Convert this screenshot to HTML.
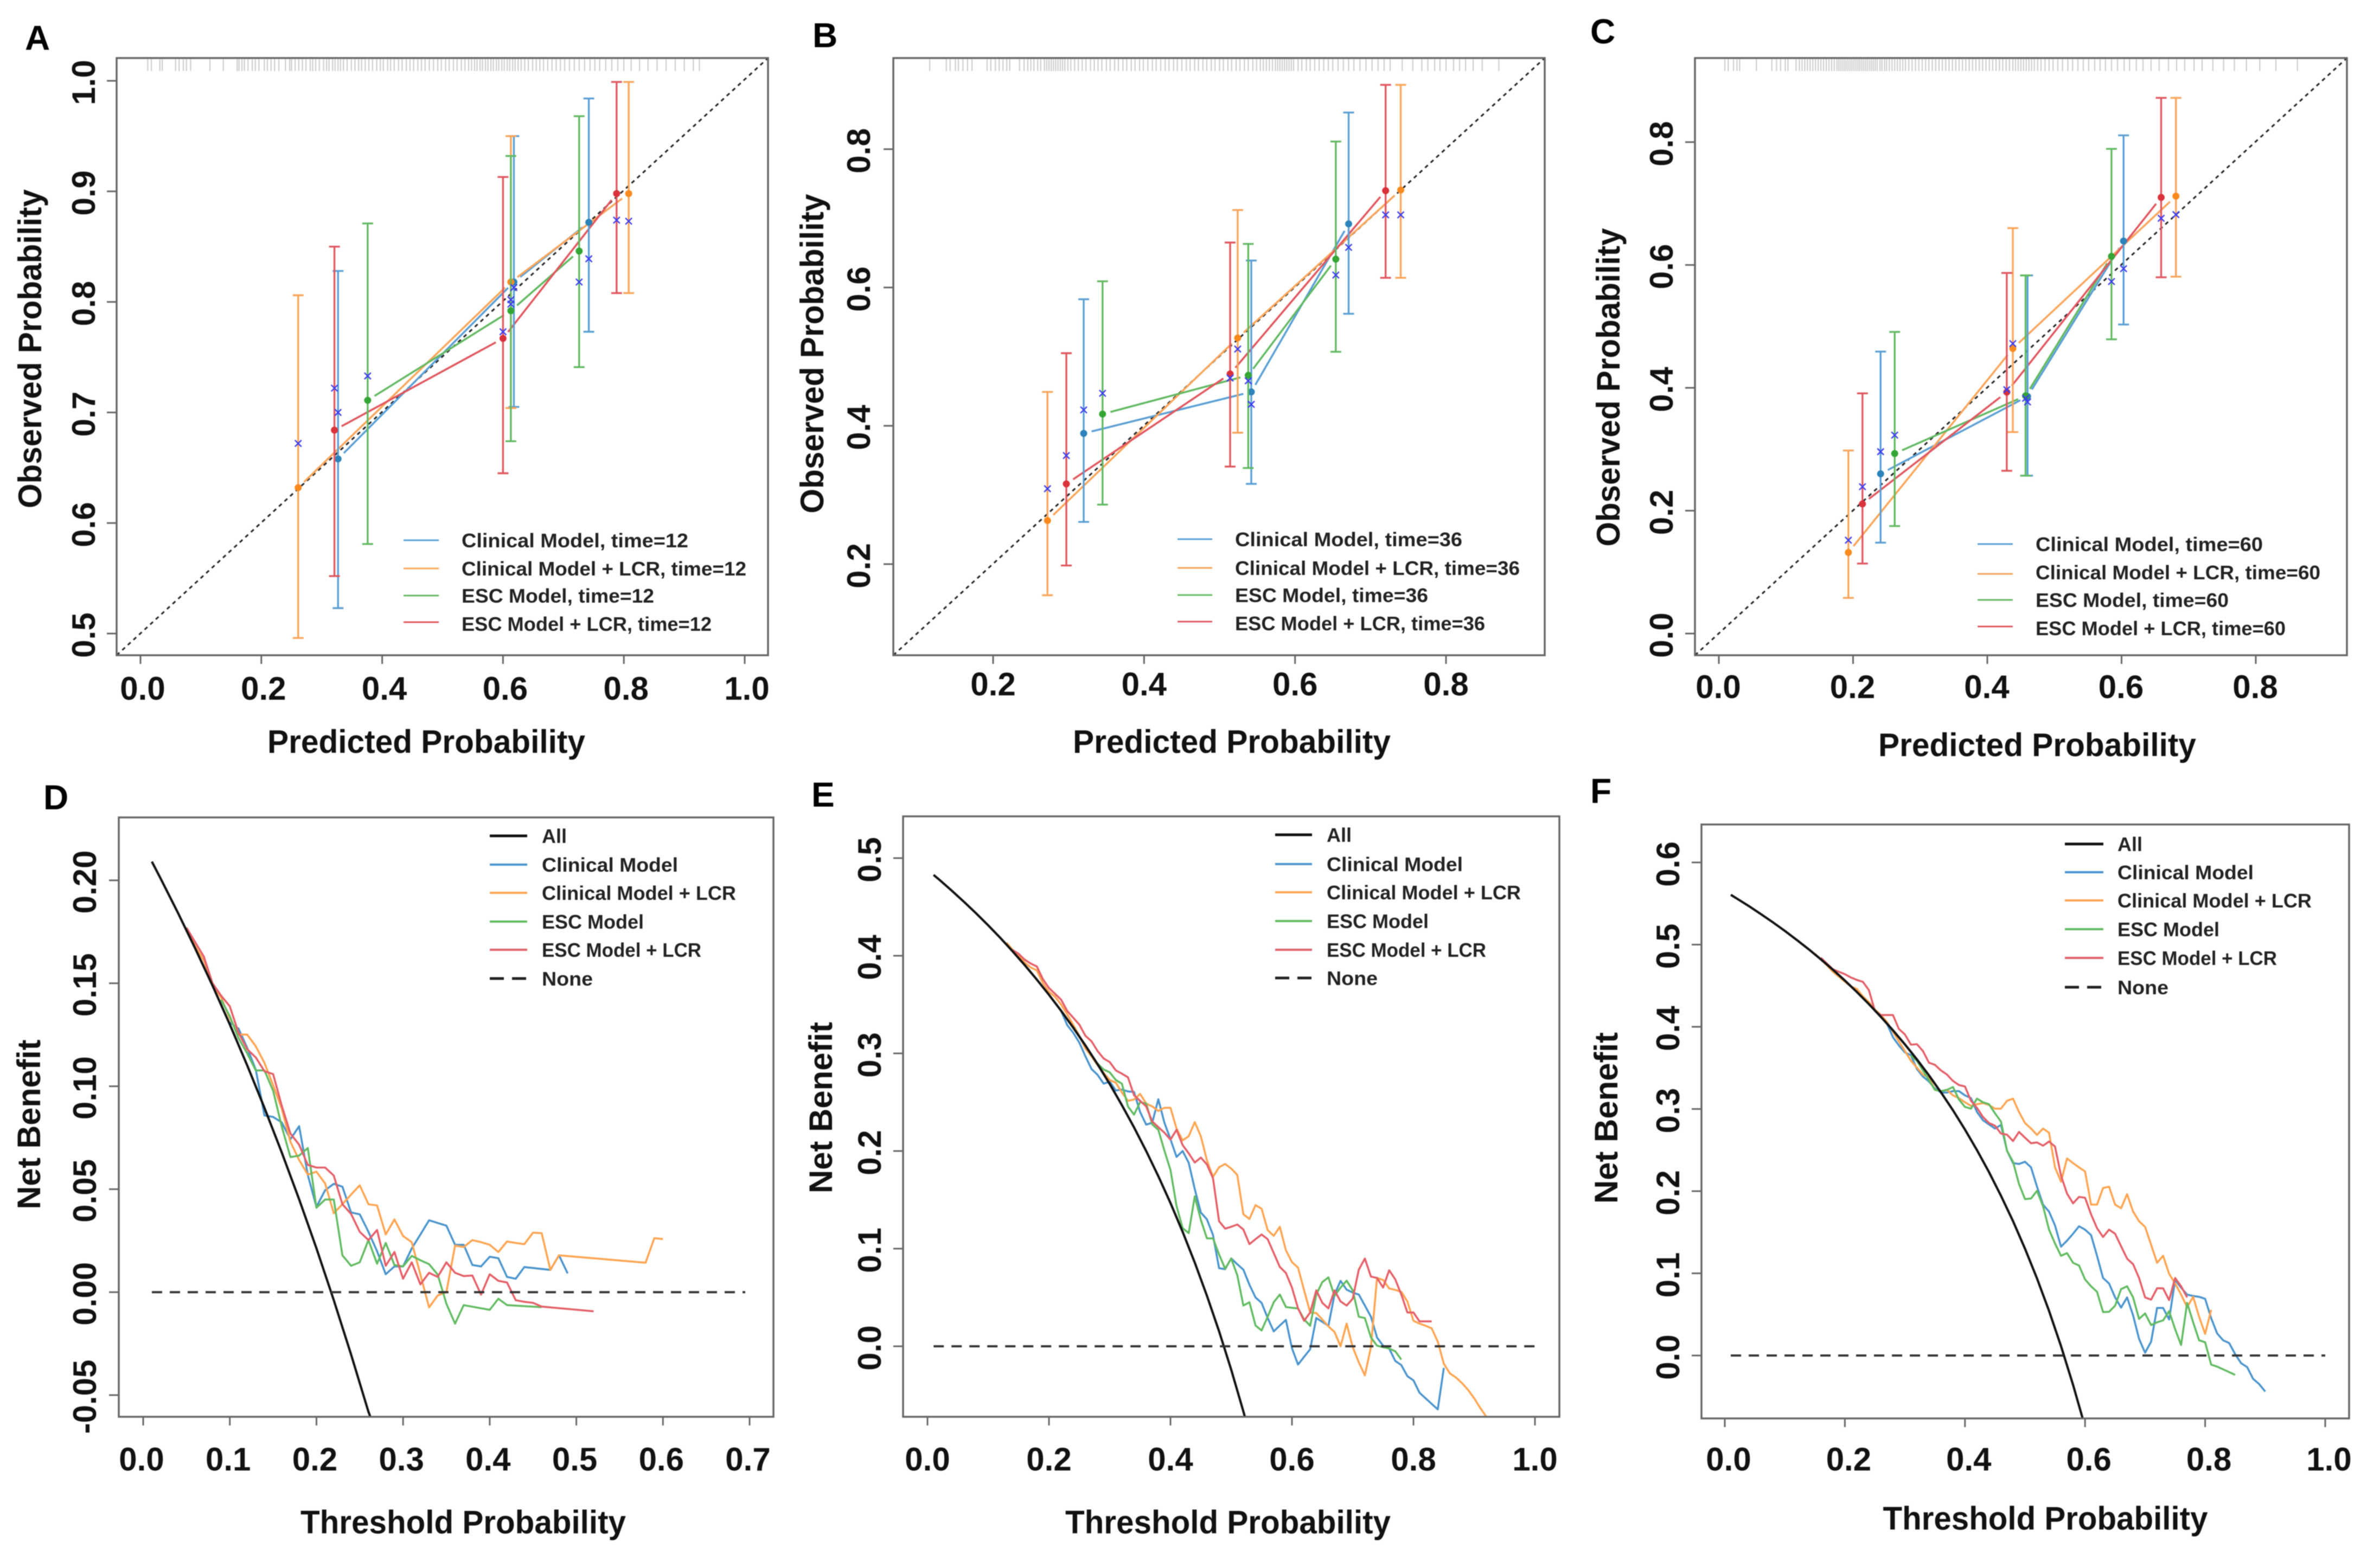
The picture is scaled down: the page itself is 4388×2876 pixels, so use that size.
<!DOCTYPE html>
<html lang="en">
<head>
<meta charset="utf-8">
<title>Calibration and decision curves</title>
<style>
html,body{margin:0;padding:0;background:#fff;width:4388px;height:2876px;overflow:hidden}
svg{display:block;filter:blur(0.8px)}
text{font-family:"Liberation Sans",sans-serif;font-weight:bold;fill:#111}
.lg{font-size:36px;fill:#222}
.tt{font-size:60px;fill:#111}
.pl{font-size:64px;fill:#000}
</style>
</head>
<body>
<svg id="figure" xmlns="http://www.w3.org/2000/svg" width="4388" height="2876" viewBox="0 0 4388 2876">
<rect x="0" y="0" width="4388" height="2876" fill="#fff"/>

<g>
<text class="pl" x="46" y="92">A</text>
<g id="marks-a"></g>
<text class="tt" x="786" y="1388" text-anchor="middle" textLength="586" lengthAdjust="spacingAndGlyphs">Predicted Probability</text>
<text class="tt" transform="translate(76,643) rotate(-90)" text-anchor="middle" textLength="588" lengthAdjust="spacingAndGlyphs">Observed Probability</text>
<g>
<line x1="744" x2="809" y1="996" y2="996" stroke="#5a9fd4" stroke-width="3"/>
<line x1="744" x2="809" y1="1048" y2="1048" stroke="#f9a55a" stroke-width="3"/>
<line x1="744" x2="809" y1="1098" y2="1098" stroke="#62b962" stroke-width="3"/>
<line x1="744" x2="809" y1="1147" y2="1147" stroke="#e0575f" stroke-width="3"/>
<text class="lg" x="851" y="1009" textLength="418" lengthAdjust="spacingAndGlyphs">Clinical Model, time=12</text>
<text class="lg" x="851" y="1061" textLength="525" lengthAdjust="spacingAndGlyphs">Clinical Model + LCR, time=12</text>
<text class="lg" x="851" y="1111" textLength="355" lengthAdjust="spacingAndGlyphs">ESC Model, time=12</text>
<text class="lg" x="851" y="1163" textLength="461" lengthAdjust="spacingAndGlyphs">ESC Model + LCR, time=12</text>
</g>
</g>

<g>
<text class="pl" x="1498" y="87">B</text>
<g id="marks-b"></g>
<text class="tt" x="2271" y="1388" text-anchor="middle" textLength="586" lengthAdjust="spacingAndGlyphs">Predicted Probability</text>
<text class="tt" transform="translate(1518,652) rotate(-90)" text-anchor="middle" textLength="589" lengthAdjust="spacingAndGlyphs">Observed Probability</text>
<g>
<line x1="2171" x2="2235" y1="994" y2="994" stroke="#5a9fd4" stroke-width="3"/>
<line x1="2171" x2="2235" y1="1047" y2="1047" stroke="#f9a55a" stroke-width="3"/>
<line x1="2171" x2="2235" y1="1097" y2="1097" stroke="#62b962" stroke-width="3"/>
<line x1="2171" x2="2235" y1="1146" y2="1146" stroke="#e0575f" stroke-width="3"/>
<text class="lg" x="2277" y="1007" textLength="419" lengthAdjust="spacingAndGlyphs">Clinical Model, time=36</text>
<text class="lg" x="2277" y="1060" textLength="525" lengthAdjust="spacingAndGlyphs">Clinical Model + LCR, time=36</text>
<text class="lg" x="2277" y="1110" textLength="356" lengthAdjust="spacingAndGlyphs">ESC Model, time=36</text>
<text class="lg" x="2277" y="1162" textLength="461" lengthAdjust="spacingAndGlyphs">ESC Model + LCR, time=36</text>
</g>
</g>

<g>
<text class="pl" x="2932" y="80">C</text>
<g id="marks-c"></g>
<text class="tt" x="3756" y="1394" text-anchor="middle" textLength="586" lengthAdjust="spacingAndGlyphs">Predicted Probability</text>
<text class="tt" transform="translate(2986,714) rotate(-90)" text-anchor="middle" textLength="587" lengthAdjust="spacingAndGlyphs">Observed Probability</text>
<g>
<line x1="3646" x2="3711" y1="1003" y2="1003" stroke="#5a9fd4" stroke-width="3"/>
<line x1="3646" x2="3711" y1="1058" y2="1058" stroke="#f9a55a" stroke-width="3"/>
<line x1="3646" x2="3711" y1="1106" y2="1106" stroke="#62b962" stroke-width="3"/>
<line x1="3646" x2="3711" y1="1155" y2="1155" stroke="#e0575f" stroke-width="3"/>
<text class="lg" x="3753" y="1016" textLength="419" lengthAdjust="spacingAndGlyphs">Clinical Model, time=60</text>
<text class="lg" x="3753" y="1068" textLength="525" lengthAdjust="spacingAndGlyphs">Clinical Model + LCR, time=60</text>
<text class="lg" x="3753" y="1119" textLength="356" lengthAdjust="spacingAndGlyphs">ESC Model, time=60</text>
<text class="lg" x="3753" y="1171" textLength="461" lengthAdjust="spacingAndGlyphs">ESC Model + LCR, time=60</text>
</g>
</g>

<g>
<text class="pl" x="80" y="1492">D</text>
<g id="marks-d"></g>
<text class="tt" x="854" y="2827" text-anchor="middle" textLength="600" lengthAdjust="spacingAndGlyphs">Threshold Probability</text>
<text class="tt" transform="translate(74,2073) rotate(-90)" text-anchor="middle" textLength="313" lengthAdjust="spacingAndGlyphs">Net Benefit</text>
<g>
<line x1="903" x2="972" y1="1541" y2="1541" stroke="#111" stroke-width="5"/>
<line x1="903" x2="972" y1="1594" y2="1594" stroke="#4a94cc" stroke-width="4"/>
<line x1="903" x2="972" y1="1646" y2="1646" stroke="#fda451" stroke-width="4"/>
<line x1="903" x2="972" y1="1699" y2="1699" stroke="#62bb62" stroke-width="4"/>
<line x1="903" x2="972" y1="1751" y2="1751" stroke="#e35f68" stroke-width="4"/>
<line x1="903" x2="972" y1="1804" y2="1804" stroke="#222" stroke-width="5" stroke-dasharray="26 15"/>
<text class="lg" x="999" y="1554" textLength="46" lengthAdjust="spacingAndGlyphs">All</text>
<text class="lg" x="999" y="1607" textLength="251" lengthAdjust="spacingAndGlyphs">Clinical Model</text>
<text class="lg" x="999" y="1659" textLength="358" lengthAdjust="spacingAndGlyphs">Clinical Model + LCR</text>
<text class="lg" x="999" y="1712" textLength="188" lengthAdjust="spacingAndGlyphs">ESC Model</text>
<text class="lg" x="999" y="1764" textLength="294" lengthAdjust="spacingAndGlyphs">ESC Model + LCR</text>
<text class="lg" x="999" y="1817" textLength="94" lengthAdjust="spacingAndGlyphs">None</text>
</g>
</g>

<g>
<text class="pl" x="1496" y="1487">E</text>
<g id="marks-e"></g>
<text class="tt" x="2264" y="2827" text-anchor="middle" textLength="600" lengthAdjust="spacingAndGlyphs">Threshold Probability</text>
<text class="tt" transform="translate(1534,2042) rotate(-90)" text-anchor="middle" textLength="316" lengthAdjust="spacingAndGlyphs">Net Benefit</text>
<g>
<line x1="2351" x2="2419" y1="1539" y2="1539" stroke="#111" stroke-width="5"/>
<line x1="2351" x2="2419" y1="1593" y2="1593" stroke="#4a94cc" stroke-width="4"/>
<line x1="2351" x2="2419" y1="1645" y2="1645" stroke="#fda451" stroke-width="4"/>
<line x1="2351" x2="2419" y1="1698" y2="1698" stroke="#62bb62" stroke-width="4"/>
<line x1="2351" x2="2419" y1="1751" y2="1751" stroke="#e35f68" stroke-width="4"/>
<line x1="2351" x2="2419" y1="1803" y2="1803" stroke="#222" stroke-width="5" stroke-dasharray="26 15"/>
<text class="lg" x="2446" y="1552" textLength="46" lengthAdjust="spacingAndGlyphs">All</text>
<text class="lg" x="2446" y="1606" textLength="251" lengthAdjust="spacingAndGlyphs">Clinical Model</text>
<text class="lg" x="2446" y="1658" textLength="358" lengthAdjust="spacingAndGlyphs">Clinical Model + LCR</text>
<text class="lg" x="2446" y="1711" textLength="188" lengthAdjust="spacingAndGlyphs">ESC Model</text>
<text class="lg" x="2446" y="1764" textLength="294" lengthAdjust="spacingAndGlyphs">ESC Model + LCR</text>
<text class="lg" x="2446" y="1816" textLength="94" lengthAdjust="spacingAndGlyphs">None</text>
</g>
</g>

<g>
<text class="pl" x="2932" y="1480">F</text>
<g id="marks-f"></g>
<text class="tt" x="3771" y="2820" text-anchor="middle" textLength="599" lengthAdjust="spacingAndGlyphs">Threshold Probability</text>
<text class="tt" transform="translate(2982,2061) rotate(-90)" text-anchor="middle" textLength="316" lengthAdjust="spacingAndGlyphs">Net Benefit</text>
<g>
<line x1="3807" x2="3878" y1="1556" y2="1556" stroke="#111" stroke-width="5"/>
<line x1="3807" x2="3878" y1="1608" y2="1608" stroke="#4a94cc" stroke-width="4"/>
<line x1="3807" x2="3878" y1="1660" y2="1660" stroke="#fda451" stroke-width="4"/>
<line x1="3807" x2="3878" y1="1713" y2="1713" stroke="#62bb62" stroke-width="4"/>
<line x1="3807" x2="3878" y1="1766" y2="1766" stroke="#e35f68" stroke-width="4"/>
<line x1="3807" x2="3878" y1="1820" y2="1820" stroke="#222" stroke-width="5" stroke-dasharray="26 15"/>
<text class="lg" x="3904" y="1569" textLength="46" lengthAdjust="spacingAndGlyphs">All</text>
<text class="lg" x="3904" y="1621" textLength="251" lengthAdjust="spacingAndGlyphs">Clinical Model</text>
<text class="lg" x="3904" y="1673" textLength="358" lengthAdjust="spacingAndGlyphs">Clinical Model + LCR</text>
<text class="lg" x="3904" y="1726" textLength="188" lengthAdjust="spacingAndGlyphs">ESC Model</text>
<text class="lg" x="3904" y="1779" textLength="294" lengthAdjust="spacingAndGlyphs">ESC Model + LCR</text>
<text class="lg" x="3904" y="1833" textLength="94" lengthAdjust="spacingAndGlyphs">None</text>
</g>
</g>
</svg>

<script>
/* ---------- Calibration data, panel A (time=12) ---------- */
const aClinicalPred=[0.327,0.618,0.742];
const aClinicalObs=[0.658,0.818,0.872];
const aClinicalLo=[0.523,0.705,0.773];
const aClinicalHi=[0.828,0.950,0.984];
const aClinicalKm=[0.700,0.813,0.839];
const aClinLcrPred=[0.261,0.613,0.808];
const aClinLcrObs=[0.632,0.818,0.898];
const aClinLcrLo=[0.496,0.704,0.808];
const aClinLcrHi=[0.806,0.950,0.999];
const aClinLcrKm=[0.672,0.802,0.873];
const aEscPred=[0.376,0.613,0.726];
const aEscObs=[0.711,0.792,0.846];
const aEscLo=[0.581,0.674,0.741];
const aEscHi=[0.871,0.932,0.968];
const aEscKm=[0.733,0.798,0.818];
const aEscLcrPred=[0.321,0.600,0.788];
const aEscLcrObs=[0.684,0.767,0.898];
const aEscLcrLo=[0.552,0.645,0.808];
const aEscLcrHi=[0.850,0.913,0.999];
const aEscLcrKm=[0.722,0.773,0.874];
const aRug=[0.012,0.018,0.032,0.036,0.058,0.064,0.071,0.076,0.083,0.115,0.137,0.16,0.163,0.168,0.172,0.178,0.185,0.19,0.196,0.205,0.21,0.216,0.222,0.229,0.24,0.247,0.25,0.256,0.262,0.268,0.274,0.281,0.285,0.29,0.296,0.303,0.308,0.312,0.318,0.322,0.327,0.331,0.336,0.342,0.349,0.355,0.361,0.366,0.372,0.378,0.384,0.391,0.397,0.402,0.409,0.414,0.42,0.427,0.433,0.44,0.446,0.452,0.459,0.465,0.471,0.478,0.485,0.492,0.498,0.505,0.511,0.518,0.524,0.531,0.537,0.543,0.548,0.553,0.557,0.562,0.566,0.571,0.575,0.58,0.584,0.589,0.593,0.598,0.602,0.607,0.611,0.616,0.62,0.625,0.63,0.636,0.642,0.649,0.655,0.661,0.667,0.674,0.681,0.688,0.695,0.702,0.71,0.718,0.726,0.735,0.744,0.752,0.76,0.77,0.78,0.79,0.8,0.812,0.826,0.84,0.855,0.87,0.885,0.9,0.915,0.925];

/* ---------- Calibration data, panel B (time=36) ---------- */
const bClinicalPred=[0.320,0.542,0.671];
const bClinicalObs=[0.389,0.449,0.692];
const bClinicalLo=[0.261,0.316,0.562];
const bClinicalHi=[0.583,0.639,0.853];
const bClinicalKm=[0.423,0.431,0.658];
const bClinLcrPred=[0.272,0.524,0.740];
const bClinLcrObs=[0.263,0.527,0.741];
const bClinLcrLo=[0.155,0.390,0.614];
const bClinLcrHi=[0.449,0.712,0.893];
const bClinLcrKm=[0.309,0.511,0.705];
const bEscPred=[0.345,0.538,0.654];
const bEscObs=[0.417,0.473,0.641];
const bEscLo=[0.286,0.339,0.507];
const bEscHi=[0.609,0.663,0.811];
const bEscKm=[0.447,0.465,0.618];
const bEscLcrPred=[0.297,0.514,0.720];
const bEscLcrObs=[0.316,0.475,0.740];
const bEscLcrLo=[0.198,0.341,0.614];
const bEscLcrHi=[0.505,0.665,0.893];
const bEscLcrKm=[0.357,0.469,0.705];
const bRug=[0.116,0.138,0.143,0.15,0.154,0.16,0.166,0.172,0.192,0.197,0.203,0.208,0.213,0.218,0.222,0.235,0.241,0.246,0.25,0.254,0.259,0.263,0.268,0.271,0.274,0.277,0.28,0.283,0.286,0.289,0.292,0.295,0.299,0.303,0.308,0.313,0.318,0.323,0.329,0.334,0.339,0.344,0.35,0.355,0.361,0.366,0.372,0.377,0.383,0.388,0.394,0.399,0.405,0.411,0.416,0.422,0.428,0.433,0.439,0.444,0.45,0.456,0.461,0.467,0.472,0.478,0.483,0.489,0.494,0.5,0.505,0.511,0.516,0.522,0.527,0.533,0.538,0.544,0.549,0.554,0.558,0.562,0.566,0.57,0.574,0.577,0.58,0.583,0.586,0.589,0.592,0.595,0.598,0.604,0.609,0.615,0.62,0.626,0.632,0.638,0.644,0.65,0.657,0.664,0.671,0.678,0.686,0.694,0.702,0.71,0.718,0.726,0.742,0.756,0.768,0.776,0.785,0.792,0.8,0.81,0.818,0.826,0.836,0.848,0.87];

/* ---------- Calibration data, panel C (time=60) ---------- */
const cClinicalPred=[0.241,0.460,0.603];
const cClinicalObs=[0.260,0.386,0.639];
const cClinicalLo=[0.148,0.257,0.503];
const cClinicalHi=[0.459,0.583,0.811];
const cClinicalKm=[0.296,0.377,0.594];
const cClinLcrPred=[0.193,0.438,0.681];
const cClinLcrObs=[0.132,0.464,0.712];
const cClinLcrLo=[0.058,0.328,0.581];
const cClinLcrHi=[0.298,0.660,0.872];
const cClinLcrKm=[0.152,0.472,0.682];
const cEscPred=[0.262,0.457,0.585];
const cEscObs=[0.293,0.387,0.614];
const cEscLo=[0.175,0.257,0.479];
const cEscHi=[0.491,0.583,0.789];
const cEscKm=[0.323,0.383,0.573];
const cEscLcrPred=[0.214,0.429,0.659];
const cEscLcrObs=[0.211,0.393,0.710];
const cEscLcrLo=[0.114,0.265,0.580];
const cEscLcrHi=[0.391,0.587,0.872];
const cEscLcrKm=[0.239,0.397,0.676];
const cRug=[0.009,0.014,0.022,0.027,0.031,0.056,0.079,0.086,0.092,0.099,0.103,0.115,0.12,0.124,0.128,0.132,0.136,0.14,0.144,0.148,0.152,0.156,0.16,0.164,0.168,0.172,0.176,0.179,0.182,0.185,0.188,0.191,0.194,0.197,0.2,0.203,0.206,0.209,0.212,0.215,0.218,0.221,0.224,0.227,0.23,0.233,0.236,0.24,0.243,0.247,0.25,0.254,0.258,0.262,0.266,0.27,0.274,0.278,0.283,0.288,0.293,0.298,0.303,0.308,0.313,0.318,0.323,0.328,0.333,0.338,0.343,0.348,0.353,0.358,0.363,0.368,0.373,0.378,0.383,0.388,0.393,0.398,0.403,0.408,0.413,0.418,0.423,0.428,0.433,0.438,0.442,0.446,0.45,0.454,0.458,0.462,0.466,0.47,0.475,0.48,0.486,0.492,0.498,0.505,0.512,0.52,0.527,0.535,0.543,0.551,0.56,0.568,0.576,0.585,0.594,0.604,0.612,0.622,0.632,0.644,0.656,0.67,0.682,0.694,0.708,0.72,0.736,0.752,0.768,0.786,0.806,0.83,0.862];

/* ---------- Calibration axis ticks ---------- */
const aXTicks=[0,0.2,0.4,0.6,0.8,1];
const aXLabels=["0.0","0.2","0.4","0.6","0.8","1.0"];
const aYTicks=[0.5,0.6,0.7,0.8,0.9,1];
const aYLabels=["0.5","0.6","0.7","0.8","0.9","1.0"];
const bXTicks=[0.2,0.4,0.6,0.8];
const bXLabels=["0.2","0.4","0.6","0.8"];
const bYTicks=[0.2,0.4,0.6,0.8];
const bYLabels=["0.2","0.4","0.6","0.8"];
const cXTicks=[0,0.2,0.4,0.6,0.8];
const cXLabels=["0.0","0.2","0.4","0.6","0.8"];
const cYTicks=[0,0.2,0.4,0.6,0.8];
const cYLabels=["0.0","0.2","0.4","0.6","0.8"];

/* ---------- Decision curve data: value at threshold = start + index*0.01 ---------- */
const dAllT=[0.01,0.02,0.04,0.06,0.08,0.10,0.12,0.14,0.16,0.18,0.20,0.22,0.24,0.26,0.262];
const dAllV=[0.2091,0.2010,0.1843,0.1670,0.1489,0.1300,0.1102,0.0895,0.0678,0.0451,0.0213,-0.0039,-0.0303,-0.0581,-0.0603];
const dNone=[0.01,0.695];
const dClinicalStart=0.10;
const dClinical=[0.131,0.128,0.1187,0.108,0.0858,0.0851,0.0824,0.0743,0.0806,0.0569,0.0414,0.0495,0.0526,0.0512,0.0387,0.0378,0.0293,0.0199,0.0087,0.0125,0.0125,0.0212,0.028,0.0349,0.0336,0.0323,0.023,0.023,0.0132,0.0125,0.0172,0.0165,0.0074,0.0065,0.0122,null,null,0.0108,0.0179,0.0091];
const dClinLcrStart=0.05;
const dClinLcr=[0.176,0.168,0.161,0.15,0.143,0.133,0.1251,0.1251,0.1194,0.1113,0.1005,0.0891,0.073,0.0642,0.0571,0.0585,0.0528,0.0383,0.0427,0.0474,0.0519,0.0427,0.0421,0.028,0.0353,0.0273,0.0243,0.0085,-0.0074,-0.0016,0,0.0226,0.0219,0.0253,0.0243,0.023,0.0195,0.0246,0.0239,0.0233,0.0289,0.0286,0.0108,0.0179,null,null,null,null,null,null,null,null,null,0.0143,0.0262,0.0258];
const dEscStart=0.09;
const dEsc=[0.142,0.134,0.1234,0.116,0.1077,0.1077,0.0978,0.0804,0.0656,0.0663,0.07,0.041,0.045,0.045,0.0179,0.0128,0.0145,0.0253,0.0138,0.0239,0.0132,0.0125,0.0176,0.0155,0.0136,0.0085,-0.0056,-0.0153,-0.0063,null,null,-0.0086,-0.0032,-0.0063,null,null,null,-0.0073];
const dEscLcrStart=0.05;
const dEscLcr=[0.177,0.17,0.163,0.15,0.144,0.1388,0.126,0.118,0.114,0.1073,0.1059,0.0905,0.077,0.0716,0.0618,0.0605,0.0605,0.0566,0.0427,0.038,0.0293,0.0253,0.0302,0.0128,0.0195,0.0065,0.0145,0.0038,0.0094,0.0074,0.0145,0.0094,0.0078,0.0081,-0.0012,0.0087,0.0055,0.0047,-0.0039,-0.0047,-0.0052,-0.007,null,null,null,null,null,-0.0093];

const eAllT=[0.01,0.02,0.04,0.06,0.08,0.10,0.12,0.14,0.16,0.18,0.20,0.22,0.24,0.26,0.28,0.30,0.32,0.34,0.36,0.38,0.40,0.42,0.44,0.46,0.48,0.50,0.52,0.5225];
const eAllV=[0.4828,0.4776,0.4666,0.4553,0.4435,0.4311,0.4182,0.4046,0.3905,0.3756,0.3600,0.3436,0.3263,0.3081,0.2889,0.2686,0.2470,0.2242,0.2000,0.1742,0.1467,0.1173,0.0857,0.0518,0.0154,-0.0240,-0.0667,-0.0722];
const eNone=[0.01,1.0];
const eClinicalStart=0.22;
const eClinical=[0.3435,0.329,0.321,0.311,0.297,0.284,0.278,0.269,0.271,0.262,0.263,0.261,0.2605,0.24,0.227,0.229,0.253,0.229,0.212,0.194,0.2,0.188,0.161,0.137,0.13,0.114,0.08,0.079,0.09,0.084,0.0785,0.063,0.05,0.0445,0.029,0.0153,0.0213,0.027,-0.002,-0.0187,-0.0108,-0.003,0.029,0.025,0.021,0.053,0.067,0.058,0.055,0.053,0.0417,0.0303,0.009,0.0006,-0.0023,-0.015,-0.0193,-0.0306,-0.0349,-0.0476,-0.0533,-0.059,-0.0646,-0.0221];
const eClinLcrStart=0.13;
const eClinLcr=[0.4135,0.406,0.4,0.393,0.388,0.385,0.372,0.363,0.358,0.35,0.34,0.329,0.318,0.305,0.297,0.288,0.28,0.2727,0.27,0.26,0.2514,0.2528,0.2585,0.2486,0.2457,0.241,0.2443,0.2443,0.223,0.2109,0.2151,0.2296,0.2151,0.1905,0.1735,0.1834,0.1868,0.182,0.1755,0.1352,0.1304,0.1446,0.1409,0.119,0.1131,0.1224,0.0984,0.0862,0.0805,0.0573,0.0346,0.034,0.0275,0.0204,0.0147,0,0.0232,-0.0009,-0.0164,-0.0298,-0.0009,0.07,0.068,0.0592,0.0578,0.0558,0.0459,0.0261,0.0232,0.021,0.0184,0.0048,-0.0179,-0.0278,-0.032,-0.0377,-0.0448,-0.0533,-0.0632,-0.0722];
const eEscStart=0.28;
const eEsc=[0.2895,0.2835,0.2806,0.2727,0.269,0.2457,0.2372,0.25,0.2486,0.2273,0.2217,0.2004,0.1806,0.1437,0.121,0.1159,0.1536,0.1295,0.1105,0.1105,0.0941,0.0794,0.0899,0.0728,0.0417,0.0451,0.0213,0.0162,0.0303,0.0451,0.053,0.0402,0.0394,0.0388,0.0275,0.021,0.053,0.0658,0.0706,0.0516,0.0601,0.0672,0.0573,0.0303,0.0289,0.0091,0.0006,-0.0009,-0.0023,-0.0051,-0.0136];
const eEscLcrStart=0.14;
const eEscLcr=[0.406,0.402,0.396,0.392,0.389,0.376,0.367,0.361,0.355,0.3435,0.3365,0.3294,0.318,0.3124,0.3024,0.2948,0.2911,0.2826,0.2792,0.2755,0.2571,0.2514,0.2457,0.2302,0.2245,0.2188,0.2117,0.2217,0.2061,0.1976,0.1882,0.1933,0.1862,0.1721,0.1281,0.1205,0.1224,0.1247,0.1196,0.1046,0.1097,0.1145,0.1097,0.0955,0.0813,0.0751,0.0601,0.0388,0.0261,0.0346,0.0573,0.0445,0.0388,0.0573,0.0459,0.0417,0.0488,0.0785,0.0899,0.0714,0.07,0.0601,0.0779,0.0686,0.053,0.0346,0.0346,0.0255,0.0255,0.0255];

const fAllT=[0.01,0.02,0.04,0.06,0.08,0.10,0.12,0.14,0.16,0.18,0.20,0.22,0.24,0.26,0.28,0.30,0.32,0.34,0.36,0.38,0.40,0.42,0.44,0.46,0.48,0.50,0.52,0.54,0.56,0.58,0.596];
const fAllV=[0.5606,0.5561,0.5469,0.5372,0.5272,0.5167,0.5057,0.4942,0.4821,0.4695,0.4563,0.4423,0.4276,0.4121,0.3958,0.3786,0.3603,0.3409,0.3203,0.2984,0.2750,0.2500,0.2232,0.1944,0.1635,0.1300,0.0938,0.0543,0.0114,-0.0357,-0.0766];
const fNone=[0.01,1.0];
const fClinicalStart=0.27;
const fClinical=[0.404,0.3873,0.3772,0.3688,0.3654,0.3486,0.3395,0.3334,0.325,0.32,0.32,0.3217,0.3217,0.3166,0.3132,0.2964,0.2863,0.2812,0.2762,0.2806,0.2492,0.2341,0.2331,0.2358,0.229,0.2055,0.1836,0.1751,0.1583,0.1324,0.1398,0.1482,0.1573,0.1532,0.1465,0.1213,0.0943,0.0876,0.0707,0.0583,0.0707,0.0488,0.0202,0.0034,0.0168,0.0579,0.0579,0.0438,0.092,0.0825,0.0741,0.0724,0.0714,0.069,0.0455,0.0269,0.0185,0.0152,0.0017,-0.0094,-0.0141,-0.0286,-0.0347,-0.0438];
const fClinLcrStart=0.15;
const fClinLcr=[0.489,0.482,0.475,0.467,0.461,0.455,0.449,0.446,0.437,0.43,0.421,0.4143,0.4059,0.3941,0.3823,0.3705,0.3587,0.3503,0.3419,0.3385,0.3233,0.3217,0.3233,0.3166,0.3132,0.3082,0.3038,0.3058,0.3072,0.3048,0.3004,0.3004,0.3099,0.3126,0.2964,0.2829,0.2762,0.2684,0.2762,0.2711,0.229,0.2115,0.2398,0.2341,0.229,0.224,0.1836,0.1836,0.2038,0.2055,0.1836,0.1792,0.1964,0.1751,0.1634,0.1566,0.1347,0.1128,0.1213,0.0994,0.0876,0.0741,0.0589,0.0714,0.0472,0.0263,0.0556];
const fEscStart=0.31;
const fEsc=[0.365,0.3587,0.3469,0.3351,0.3233,0.3217,0.3233,0.3267,0.3115,0.3025,0.3004,0.3126,0.3082,0.3058,0.2947,0.2846,0.2492,0.2358,0.2088,0.1903,0.191,0.2004,0.1819,0.1532,0.1364,0.1213,0.1246,0.1128,0.1095,0.0926,0.0842,0.0775,0.0529,0.0532,0.0606,0.0808,0.0842,0.0707,0.0445,0.0512,0.0371,0.0404,0.0428,0.0539,0.032,0.0128,0.064,0.0404,0.0185,0.0162,-0.0111,-0.0135,-0.0168,-0.0202,-0.0236];
const fEscLcrStart=0.16;
const fEscLcr=[0.484,0.477,0.47,0.467,0.464,0.46,0.457,0.4547,0.4446,0.4193,0.4143,0.4143,0.4143,0.3974,0.3907,0.3782,0.3789,0.3705,0.3563,0.3537,0.3469,0.3419,0.3341,0.3291,0.3274,0.3099,0.3014,0.2903,0.2829,0.2796,0.2701,0.2688,0.261,0.2721,0.2651,0.2583,0.2593,0.2553,0.2604,0.2543,0.2189,0.197,0.1852,0.193,0.192,0.1718,0.1549,0.1442,0.1532,0.1482,0.133,0.1179,0.1111,0.0943,0.0707,0.068,0.0818,0.0818,0.0674,0.0943,0.0842,0.0707];

/* ---------- Decision curve axis ticks ---------- */
const dXTicks=[0,0.1,0.2,0.3,0.4,0.5,0.6,0.7];
const dXLabels=["0.0","0.1","0.2","0.3","0.4","0.5","0.6","0.7"];
const dYTicks=[-0.05,0,0.05,0.10,0.15,0.20];
const dYLabels=["-0.05","0.00","0.05","0.10","0.15","0.20"];
const eXTicks=[0,0.2,0.4,0.6,0.8,1];
const eXLabels=["0.0","0.2","0.4","0.6","0.8","1.0"];
const eYTicks=[0,0.1,0.2,0.3,0.4,0.5];
const eYLabels=["0.0","0.1","0.2","0.3","0.4","0.5"];
const fXTicks=[0,0.2,0.4,0.6,0.8,1];
const fXLabels=["0.0","0.2","0.4","0.6","0.8","1.0"];
const fYTicks=[0,0.1,0.2,0.3,0.4,0.5,0.6];
const fYLabels=["0.0","0.1","0.2","0.3","0.4","0.5","0.6"];

/* ---------- Drawing ---------- */
const NS='http://www.w3.org/2000/svg';
const CAL_COLORS={clinical:'#5a9fd4',clinlcr:'#f9a55a',esc:'#62b962',esclcr:'#e0575f'};
const DOT_COLORS={clinical:'#2b83ba',clinlcr:'#fb8a1e',esc:'#35a535',esclcr:'#d9323a'};
const DCA_COLORS={clinical:'#4a94cc',clinlcr:'#fda451',esc:'#62bb62',esclcr:'#e35f68'};

function mk(parent,tag,name,attrs){
  const el=document.createElementNS(NS,tag);
  
  
  for(const k in attrs){el.setAttribute(k,attrs[k]);}
  parent.appendChild(el);
  return el;
}
function scale(v0,v1,p0,p1){return v=>p0+(v-v0)*(p1-p0)/(v1-v0);}

function drawFrame(g,P,X,Y){
  const [l,t,r,b]=P.box;
  const color='#666';
  P.xTicks.forEach((v,i)=>{
    const x=X(v);
    mk(g,'line','x-tick',{x1:x,x2:x,y1:b,y2:b+16,stroke:color,'stroke-width':3});
    const lab=mk(g,'text','x-tick-label',{x:x+P.xLabelShift,y:P.xLabelY,'text-anchor':'middle','font-size':60});
    lab.textContent=P.xLabels[i];
  });
  P.yTicks.forEach((v,i)=>{
    const y=Y(v);
    mk(g,'line','y-tick',{x1:l-18,x2:l,y1:y,y2:y,stroke:color,'stroke-width':3});
    const lab=mk(g,'text','y-tick-label',{transform:`translate(${P.yLabelX},${y+P.yLabelShift}) rotate(-90)`,'text-anchor':'middle','font-size':60});
    lab.textContent=P.yLabels[i];
  });
}
function drawBox(g,P){
  const [l,t,r,b]=P.box;
  mk(g,'rect','plot-box',{x:l,y:t,width:r-l,height:b-t,fill:'none',stroke:'#666','stroke-width':3.5});
}

function drawCalibration(P){
  const g=document.getElementById(P.id);
  const X=scale(P.xv[0],P.xv[1],P.xp[0],P.xp[1]);
  const Y=scale(P.yv[0],P.yv[1],P.yp[0],P.yp[1]);
  const [l,t,r,b]=P.box;
  drawFrame(g,P,X,Y);
  P.rug.forEach(v=>{
    mk(g,'line','rug-mark',{x1:X(v),x2:X(v),y1:t+2,y2:t+24,stroke:'rgba(60,60,60,0.28)','stroke-width':2});
  });
  mk(g,'line','ideal-diagonal',{x1:l,y1:b,x2:r,y2:t,stroke:'#222','stroke-width':3,'stroke-dasharray':'7 7'});
  const GAP=15;
  P.series.forEach(s=>{
    const c=CAL_COLORS[s.key], d=DOT_COLORS[s.key];
    for(let i=0;i<s.pred.length-1;i++){
      const x1=X(s.pred[i]),y1=Y(s.obs[i]),x2=X(s.pred[i+1]),y2=Y(s.obs[i+1]);
      const len=Math.hypot(x2-x1,y2-y1),ux=(x2-x1)/len,uy=(y2-y1)/len;
      mk(g,'line','calibration-line-'+s.key,{x1:x1+ux*GAP,y1:y1+uy*GAP,x2:x2-ux*GAP,y2:y2-uy*GAP,stroke:c,'stroke-width':3.6});
    }
  });
  P.series.forEach(s=>{
    const c=CAL_COLORS[s.key], d=DOT_COLORS[s.key];
    s.pred.forEach((p,i)=>{
      const x=X(p);
      mk(g,'line','error-bar-'+s.key,{x1:x,x2:x,y1:Y(s.lo[i]),y2:Y(s.hi[i]),stroke:c,'stroke-width':3.4});
      mk(g,'line','error-cap-'+s.key,{x1:x-10,x2:x+10,y1:Y(s.lo[i]),y2:Y(s.lo[i]),stroke:c,'stroke-width':3.4});
      mk(g,'line','error-cap-'+s.key,{x1:x-10,x2:x+10,y1:Y(s.hi[i]),y2:Y(s.hi[i]),stroke:c,'stroke-width':3.4});
      mk(g,'circle','observed-point-'+s.key,{cx:x,cy:Y(s.obs[i]),r:6.5,fill:d});
    });
  });
  P.series.forEach(s=>{
    s.pred.forEach((p,i)=>{
      const x=X(p),y=Y(s.km[i]);
      mk(g,'line','bias-corrected-mark-'+s.key,{x1:x-6,y1:y-6,x2:x+6,y2:y+6,stroke:'#3b3bf0','stroke-width':2.4});
      mk(g,'line','bias-corrected-mark-'+s.key,{x1:x-6,y1:y+6,x2:x+6,y2:y-6,stroke:'#3b3bf0','stroke-width':2.4});
    });
  });
  drawBox(g,P);
}

function drawDecision(P){
  const g=document.getElementById(P.id);
  const X=scale(P.xv[0],P.xv[1],P.xp[0],P.xp[1]);
  const Y=scale(P.yv[0],P.yv[1],P.yp[0],P.yp[1]);
  drawFrame(g,P,X,Y);
  P.series.forEach(s=>{
    const pts=[];
    s.values.forEach((v,i)=>{
      if(v===null)return;
      pts.push(X(s.start+i*0.01).toFixed(1)+','+Y(v).toFixed(1));
    });
    mk(g,'polyline','net-benefit-curve-'+s.key,{points:pts.join(' '),fill:'none',stroke:DCA_COLORS[s.key],'stroke-width':3.6,'stroke-linejoin':'round'});
  });
  const allPts=P.allT.map((t,i)=>X(t).toFixed(1)+','+Y(P.allV[i]).toFixed(1));
  mk(g,'polyline','net-benefit-curve-all',{points:allPts.join(' '),fill:'none',stroke:'#111','stroke-width':4.2});
  mk(g,'line','net-benefit-line-none',{x1:X(P.none[0]),x2:X(P.none[1]),y1:Y(0),y2:Y(0),stroke:'#333','stroke-width':4,'stroke-dasharray':'19 14'});
  drawBox(g,P);
}

drawCalibration({id:'marks-a',xv:[0,1],xp:[259,1373],yv:[0.5,1],yp:[1168,149],box:[215,107,1416,1208],
  xTicks:aXTicks,xLabels:aXLabels,yTicks:aYTicks,yLabels:aYLabels,xLabelY:1290,xLabelShift:4,yLabelX:175,yLabelShift:3,rug:aRug,
  series:[
    {key:'clinical',pred:aClinicalPred,obs:aClinicalObs,lo:aClinicalLo,hi:aClinicalHi,km:aClinicalKm},
    {key:'clinlcr',pred:aClinLcrPred,obs:aClinLcrObs,lo:aClinLcrLo,hi:aClinLcrHi,km:aClinLcrKm},
    {key:'esc',pred:aEscPred,obs:aEscObs,lo:aEscLo,hi:aEscHi,km:aEscKm},
    {key:'esclcr',pred:aEscLcrPred,obs:aEscLcrObs,lo:aEscLcrLo,hi:aEscLcrHi,km:aEscLcrKm}
  ]});
drawCalibration({id:'marks-b',xv:[0.2,0.8],xp:[1831,2666],yv:[0.2,0.8],yp:[1040,275],box:[1647,107,2848,1208],
  xTicks:bXTicks,xLabels:bXLabels,yTicks:bYTicks,yLabels:bYLabels,xLabelY:1282,xLabelShift:0,yLabelX:1604,yLabelShift:3,rug:bRug,
  series:[
    {key:'clinical',pred:bClinicalPred,obs:bClinicalObs,lo:bClinicalLo,hi:bClinicalHi,km:bClinicalKm},
    {key:'clinlcr',pred:bClinLcrPred,obs:bClinLcrObs,lo:bClinLcrLo,hi:bClinLcrHi,km:bClinLcrKm},
    {key:'esc',pred:bEscPred,obs:bEscObs,lo:bEscLo,hi:bEscHi,km:bEscKm},
    {key:'esclcr',pred:bEscLcrPred,obs:bEscLcrObs,lo:bEscLcrLo,hi:bEscLcrHi,km:bEscLcrKm}
  ]});
drawCalibration({id:'marks-c',xv:[0,0.8],xp:[3169,4159],yv:[0,0.8],yp:[1168,262],box:[3125,107,4327,1208],
  xTicks:cXTicks,xLabels:cXLabels,yTicks:cYTicks,yLabels:cYLabels,xLabelY:1287,xLabelShift:-1,yLabelX:3084,yLabelShift:3,rug:cRug,
  series:[
    {key:'clinical',pred:cClinicalPred,obs:cClinicalObs,lo:cClinicalLo,hi:cClinicalHi,km:cClinicalKm},
    {key:'clinlcr',pred:cClinLcrPred,obs:cClinLcrObs,lo:cClinLcrLo,hi:cClinLcrHi,km:cClinLcrKm},
    {key:'esc',pred:cEscPred,obs:cEscObs,lo:cEscLo,hi:cEscHi,km:cEscKm},
    {key:'esclcr',pred:cEscLcrPred,obs:cEscLcrObs,lo:cEscLcrLo,hi:cEscLcrHi,km:cEscLcrKm}
  ]});
drawDecision({id:'marks-d',xv:[0,0.7],xp:[264,1382],yv:[-0.05,0.2],yp:[2572,1623],box:[219,1507,1426,2612],
  xTicks:dXTicks,xLabels:dXLabels,yTicks:dYTicks,yLabels:dYLabels,xLabelY:2711,xLabelShift:-3,yLabelX:177,yLabelShift:3,
  allT:dAllT,allV:dAllV,none:dNone,
  series:[
    {key:'clinical',start:dClinicalStart,values:dClinical},
    {key:'clinlcr',start:dClinLcrStart,values:dClinLcr},
    {key:'esc',start:dEscStart,values:dEsc},
    {key:'esclcr',start:dEscLcrStart,values:dEscLcr}
  ]});
drawDecision({id:'marks-e',xv:[0,1],xp:[1710,2830],yv:[0,0.5],yp:[2482,1582],box:[1665,1505,2875,2612],
  xTicks:eXTicks,xLabels:eXLabels,yTicks:eYTicks,yLabels:eYLabels,xLabelY:2711,xLabelShift:0,yLabelX:1624,yLabelShift:3,
  allT:eAllT,allV:eAllV,none:eNone,
  series:[
    {key:'clinical',start:eClinicalStart,values:eClinical},
    {key:'clinlcr',start:eClinLcrStart,values:eClinLcr},
    {key:'esc',start:eEscStart,values:eEsc},
    {key:'esclcr',start:eEscLcrStart,values:eEscLcr}
  ]});
drawDecision({id:'marks-f',xv:[0,1],xp:[3180,4287],yv:[0,0.6],yp:[2499,1590],box:[3137,1520,4331,2615],
  xTicks:fXTicks,xLabels:fXLabels,yTicks:fYTicks,yLabels:fYLabels,xLabelY:2711,xLabelShift:7,yLabelX:3096,yLabelShift:3,
  allT:fAllT,allV:fAllV,none:fNone,
  series:[
    {key:'clinical',start:fClinicalStart,values:fClinical},
    {key:'clinlcr',start:fClinLcrStart,values:fClinLcr},
    {key:'esc',start:fEscStart,values:fEsc},
    {key:'esclcr',start:fEscLcrStart,values:fEscLcr}
  ]});
</script>
</body>
</html>
